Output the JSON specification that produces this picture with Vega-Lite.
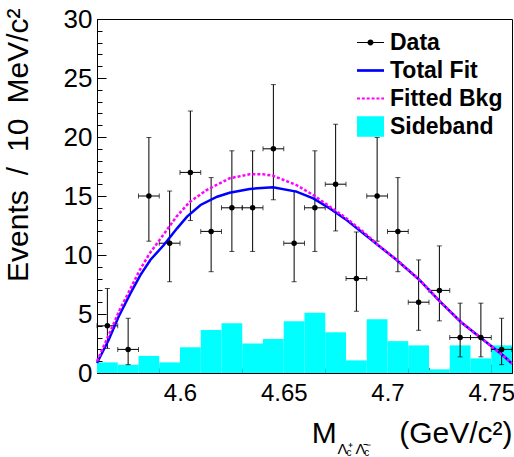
{
  "$schema": "https://vega.github.io/schema/vega-lite/v6.json",
  "width": 415,
  "height": 354,
  "autosize": {"type": "none"},
  "padding": {"left": 97, "top": 19, "right": 2, "bottom": 84},
  "background": "white",
  "config": {
    "view": {"stroke": "black", "strokeWidth": 1},
    "axis": {"labelFont": "Liberation Sans", "titleFont": "Liberation Sans", "labelColor": "black", "titleColor": "black", "tickColor": "black", "domainColor": "black", "grid": false, "titleFontWeight": "normal", "zindex": 1, "tickWidth": 1, "domainWidth": 1, "labelFlush": false, "labelOverlap": false}
  },
  "datasets": {
    "pts": [
      {"m": 4.565, "n": 4, "lo": 2.086, "hi": 7.163, "xlo": 4.56, "xhi": 4.57},
      {"m": 4.575, "n": 2, "lo": 0.708, "hi": 4.638, "xlo": 4.57, "xhi": 4.58},
      {"m": 4.585, "n": 15, "lo": 11.17, "hi": 19.96, "xlo": 4.58, "xhi": 4.59},
      {"m": 4.595, "n": 11, "lo": 7.734, "hi": 15.42, "xlo": 4.59, "xhi": 4.60},
      {"m": 4.605, "n": 17, "lo": 12.92, "hi": 22.20, "xlo": 4.60, "xhi": 4.61},
      {"m": 4.615, "n": 12, "lo": 8.585, "hi": 16.56, "xlo": 4.61, "xhi": 4.62},
      {"m": 4.625, "n": 14, "lo": 10.30, "hi": 18.83, "xlo": 4.62, "xhi": 4.63},
      {"m": 4.635, "n": 14, "lo": 10.30, "hi": 18.83, "xlo": 4.63, "xhi": 4.64},
      {"m": 4.645, "n": 19, "lo": 14.68, "hi": 24.44, "xlo": 4.64, "xhi": 4.65},
      {"m": 4.655, "n": 11, "lo": 7.734, "hi": 15.42, "xlo": 4.65, "xhi": 4.66},
      {"m": 4.665, "n": 14, "lo": 10.30, "hi": 18.83, "xlo": 4.66, "xhi": 4.67},
      {"m": 4.675, "n": 16, "lo": 12.04, "hi": 21.08, "xlo": 4.67, "xhi": 4.68},
      {"m": 4.685, "n": 8, "lo": 5.232, "hi": 11.95, "xlo": 4.68, "xhi": 4.69},
      {"m": 4.695, "n": 15, "lo": 11.17, "hi": 19.96, "xlo": 4.69, "xhi": 4.70},
      {"m": 4.705, "n": 12, "lo": 8.585, "hi": 16.56, "xlo": 4.70, "xhi": 4.71},
      {"m": 4.715, "n": 6, "lo": 3.620, "hi": 9.584, "xlo": 4.71, "xhi": 4.72},
      {"m": 4.725, "n": 7, "lo": 4.419, "hi": 10.77, "xlo": 4.72, "xhi": 4.73},
      {"m": 4.735, "n": 3, "lo": 1.367, "hi": 5.918, "xlo": 4.73, "xhi": 4.74},
      {"m": 4.745, "n": 3, "lo": 1.367, "hi": 5.918, "xlo": 4.74, "xhi": 4.75},
      {"m": 4.755, "n": 2, "lo": 0.708, "hi": 4.638, "xlo": 4.75, "xhi": 4.76}
    ],
    "sideband": [
      {"lo": 4.56, "hi": 4.57, "sb": 0.9},
      {"lo": 4.57, "hi": 4.58, "sb": 0.7},
      {"lo": 4.58, "hi": 4.59, "sb": 1.45},
      {"lo": 4.59, "hi": 4.60, "sb": 0.9},
      {"lo": 4.60, "hi": 4.61, "sb": 2.18},
      {"lo": 4.61, "hi": 4.62, "sb": 3.65},
      {"lo": 4.62, "hi": 4.63, "sb": 4.22},
      {"lo": 4.63, "hi": 4.64, "sb": 2.5},
      {"lo": 4.64, "hi": 4.65, "sb": 2.88},
      {"lo": 4.65, "hi": 4.66, "sb": 4.38},
      {"lo": 4.66, "hi": 4.67, "sb": 5.11},
      {"lo": 4.67, "hi": 4.68, "sb": 3.45},
      {"lo": 4.68, "hi": 4.69, "sb": 1.07},
      {"lo": 4.69, "hi": 4.70, "sb": 4.55},
      {"lo": 4.70, "hi": 4.71, "sb": 2.7},
      {"lo": 4.71, "hi": 4.72, "sb": 2.34},
      {"lo": 4.72, "hi": 4.73, "sb": 0.31},
      {"lo": 4.73, "hi": 4.74, "sb": 2.34},
      {"lo": 4.74, "hi": 4.75, "sb": 1.24},
      {"lo": 4.75, "hi": 4.76, "sb": 2.34}
    ],
    "fit": [
      {"m": 4.5600, "y": 0.85}, {"m": 4.5656, "y": 2.8}, {"m": 4.5704, "y": 4.77}, {"m": 4.5761, "y": 6.75},
      {"m": 4.5809, "y": 8.3}, {"m": 4.5857, "y": 9.58}, {"m": 4.5922, "y": 10.85}, {"m": 4.5986, "y": 12.26},
      {"m": 4.6034, "y": 13.25}, {"m": 4.6099, "y": 14.24}, {"m": 4.6179, "y": 14.94}, {"m": 4.6239, "y": 15.28},
      {"m": 4.6336, "y": 15.6}, {"m": 4.6448, "y": 15.74}, {"m": 4.6561, "y": 15.37}, {"m": 4.6642, "y": 14.8},
      {"m": 4.6722, "y": 13.95}, {"m": 4.6803, "y": 12.97}, {"m": 4.6883, "y": 11.84}, {"m": 4.6964, "y": 10.7},
      {"m": 4.7044, "y": 9.58}, {"m": 4.7109, "y": 8.58}, {"m": 4.7156, "y": 7.85}, {"m": 4.7256, "y": 6.0},
      {"m": 4.7355, "y": 4.3}, {"m": 4.7455, "y": 2.9}, {"m": 4.7556, "y": 1.5}, {"m": 4.7600, "y": 0.8}
    ],
    "bkg": [
      {"m": 4.5600, "y": 1.0}, {"m": 4.5653, "y": 3.08}, {"m": 4.5709, "y": 5.34}, {"m": 4.5758, "y": 7.03},
      {"m": 4.5806, "y": 8.73}, {"m": 4.5854, "y": 10.14}, {"m": 4.5919, "y": 11.7}, {"m": 4.5983, "y": 13.25},
      {"m": 4.6047, "y": 14.5}, {"m": 4.6128, "y": 15.5}, {"m": 4.6239, "y": 16.5}, {"m": 4.6336, "y": 16.84},
      {"m": 4.6400, "y": 16.84}, {"m": 4.6448, "y": 16.72}, {"m": 4.6561, "y": 15.93}, {"m": 4.6642, "y": 15.08},
      {"m": 4.6722, "y": 14.1}, {"m": 4.6803, "y": 13.1}, {"m": 4.6883, "y": 11.97}, {"m": 4.6964, "y": 10.7},
      {"m": 4.7044, "y": 9.6}, {"m": 4.7109, "y": 8.6}, {"m": 4.7156, "y": 7.85}, {"m": 4.7256, "y": 6.0},
      {"m": 4.7355, "y": 4.3}, {"m": 4.7455, "y": 2.9}, {"m": 4.7556, "y": 1.5}, {"m": 4.7600, "y": 0.8}
    ],
    "legend": [{"s": "Data"}, {"s": "Total Fit"}, {"s": "Fitted Bkg"}, {"s": "Sideband"}]
  },
  "layer": [
    {
      "data": {"name": "sideband"},
      "mark": {"type": "rect", "color": "#00ffff"},
      "encoding": {
        "x": {"field": "lo", "type": "quantitative", "scale": {"domain": [4.56, 4.76], "nice": false, "zero": false},
          "axis": {"orient": "bottom", "values": [4.6, 4.65, 4.7, 4.75], "format": ".2~f", "labelFontSize": 24, "tickSize": -9, "labelPadding": 17,
            "title": "M\u2003\u2003\u200A(GeV/c²)", "titleFontSize": 30, "titleAlign": "right", "titleBaseline": "alphabetic", "titleX": 415, "titleY": 69}},
        "x2": {"field": "hi"},
        "y": {"field": "sb", "type": "quantitative", "scale": {"domain": [0, 30], "nice": false},
          "axis": {"orient": "left", "values": [0, 5, 10, 15, 20, 25, 30], "format": "d", "labelFontSize": 26, "tickSize": -9, "labelPadding": 14,
            "title": "Events\u2002/\u200210\u2002MeV/c²", "titleFontSize": 30, "titleAngle": 270, "titleAlign": "right", "titleBaseline": "alphabetic", "titleX": -70, "titleY": -11}},
        "y2": {"datum": 0}
      }
    },
    {
      "data": {"name": "pts"},
      "mark": {"type": "rule", "color": "black", "strokeWidth": 1},
      "encoding": {
        "x": {"field": "m", "type": "quantitative",
          "axis": {"orient": "bottom", "ticks": false, "labels": false, "domain": false,
            "title": "c\u2003\u2009\u200Ac", "titleFontSize": 10, "titleAlign": "left", "titleBaseline": "alphabetic", "titleX": 249, "titleY": 82}},
        "y": {"field": "lo", "type": "quantitative", "axis": null},
        "y2": {"field": "hi"}
      }
    },
    {
      "data": {"name": "pts"},
      "mark": {"type": "rule", "color": "black", "strokeWidth": 1},
      "encoding": {
        "x": {"field": "xlo", "type": "quantitative", "axis": null},
        "x2": {"field": "xhi"},
        "y": {"field": "n", "type": "quantitative", "axis": null}
      }
    },
    {
      "data": {"name": "pts"},
      "mark": {"type": "tick", "orient": "horizontal", "color": "black", "size": 5, "thickness": 1},
      "encoding": {
        "x": {"field": "m", "type": "quantitative", "axis": null},
        "y": {"field": "hi", "type": "quantitative", "axis": null}
      }
    },
    {
      "data": {"name": "pts"},
      "mark": {"type": "tick", "orient": "horizontal", "color": "black", "size": 5, "thickness": 1},
      "encoding": {
        "x": {"field": "m", "type": "quantitative", "axis": null},
        "y": {"field": "lo", "type": "quantitative", "axis": null}
      }
    },
    {
      "data": {"name": "pts"},
      "mark": {"type": "tick", "orient": "vertical", "color": "black", "size": 5, "thickness": 1},
      "encoding": {
        "x": {"field": "xlo", "type": "quantitative", "axis": null},
        "y": {"field": "n", "type": "quantitative", "axis": null}
      }
    },
    {
      "data": {"name": "pts"},
      "mark": {"type": "tick", "orient": "vertical", "color": "black", "size": 5, "thickness": 1},
      "encoding": {
        "x": {"field": "xhi", "type": "quantitative", "axis": null},
        "y": {"field": "n", "type": "quantitative", "axis": null}
      }
    },
    {
      "data": {"name": "fit"},
      "mark": {"type": "line", "color": "#0000ff", "strokeWidth": 2.5},
      "encoding": {
        "x": {"field": "m", "type": "quantitative",
          "axis": {"orient": "bottom", "values": [4.57, 4.58, 4.59, 4.61, 4.62, 4.63, 4.64, 4.66, 4.67, 4.68, 4.69, 4.71, 4.72, 4.73, 4.74], "tickSize": -5, "labels": false, "domain": false,
            "title": "Λ⁺\u2009Λ̄⁻", "titleFontSize": 15, "titleAlign": "left", "titleBaseline": "alphabetic", "titleX": 240, "titleY": 80}},
        "y": {"field": "y", "type": "quantitative",
          "axis": {"orient": "left", "values": [1, 2, 3, 4, 6, 7, 8, 9, 11, 12, 13, 14, 16, 17, 18, 19, 21, 22, 23, 24, 26, 27, 28, 29], "tickSize": -5, "labels": false, "domain": false, "title": null}}
      }
    },
    {
      "data": {"name": "bkg"},
      "mark": {"type": "line", "color": "#ff00ff", "strokeWidth": 2.5, "strokeDash": [3, 2]},
      "encoding": {
        "x": {"field": "m", "type": "quantitative", "axis": null},
        "y": {"field": "y", "type": "quantitative", "axis": null}
      }
    },
    {
      "data": {"name": "pts"},
      "mark": {"type": "point", "filled": true, "shape": "circle", "color": "black", "size": 30, "opacity": 1, "strokeWidth": 0},
      "encoding": {
        "x": {"field": "m", "type": "quantitative", "axis": null},
        "y": {"field": "n", "type": "quantitative", "axis": null}
      }
    },
    {
      "data": {"name": "legend"},
      "mark": {"type": "point", "filled": true, "clip": true, "opacity": 1, "strokeWidth": 0},
      "encoding": {
        "x": {"datum": 5, "type": "quantitative", "axis": null},
        "y": {"datum": 0, "type": "quantitative", "axis": null},
        "color": {"field": "s", "type": "nominal",
          "scale": {"domain": ["Data", "Total Fit", "Fitted Bkg", "Sideband"], "range": ["#000000", "#0000ff", "#ff00ff", "#00ffff"]},
          "legend": {"orient": "none", "legendX": 260, "legendY": 10, "title": null, "symbolSize": 729, "labelFontSize": 23, "labelFontWeight": "bold", "labelFont": "Liberation Sans", "labelColor": "black", "rowPadding": 2, "labelOffset": 6, "padding": 0, "symbolStrokeWidth": 0, "symbolOpacity": 1}},
        "shape": {"field": "s", "type": "nominal",
          "scale": {"domain": ["Data", "Total Fit", "Fitted Bkg", "Sideband"],
            "range": [
              "M-1,-0.04H1V0.04H-1Z M-0.22,0A0.22,0.22,0,1,1,0.22,0A0.22,0.22,0,1,1,-0.22,0Z",
              "M-1,-0.1H1V0.1H-1Z",
              "M-1,-0.08H-0.78V0.08H-1Z M-0.64,-0.08H-0.42V0.08H-0.64Z M-0.28,-0.08H-0.06V0.08H-0.28Z M0.08,-0.08H0.3V0.08H0.08Z M0.44,-0.08H0.66V0.08H0.44Z M0.8,-0.08H1V0.08H0.8Z",
              "M-1,-0.76H1V0.76H-1Z"
            ]},
          "legend": {"orient": "none", "legendX": 260, "legendY": 10, "title": null, "symbolSize": 729, "labelFontSize": 23, "labelFontWeight": "bold", "labelFont": "Liberation Sans", "labelColor": "black", "rowPadding": 2, "labelOffset": 6, "padding": 0, "symbolStrokeWidth": 0, "symbolOpacity": 1}}
      }
    }
  ],
  "resolve": {"axis": {"x": "independent", "y": "independent"}}
}
